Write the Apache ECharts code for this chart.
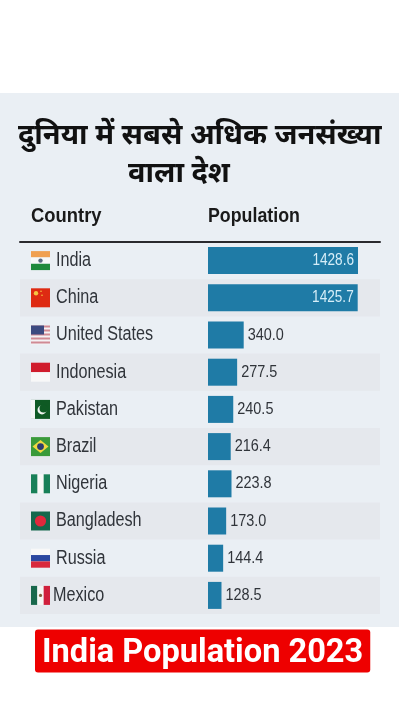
<!DOCTYPE html>
<html>
<head>
<meta charset="utf-8">
<style>
  html, body { margin: 0; padding: 0; background: #fff; }
  #main { width: 405px; height: 720px; }
</style>
<script src="https://cdn.jsdelivr.net/npm/echarts@6/dist/echarts.min.js"></script>
</head>
<body>
<div id="main"></div>
<script>
const countries = ["India", "China", "United States", "Indonesia", "Pakistan", "Brazil", "Nigeria", "Bangladesh", "Russia", "Mexico"];
const population = [1428.6, 1425.7, 340.0, 277.5, 240.5, 216.4, 223.8, 173.0, 144.4, 128.5];
const titleLine1 = "दुनिया में सबसे अधिक जनसंख्या";
const titleLine2 = "वाला देश";
const banner = "India Population 2023";

const sans = '"Liberation Sans", sans-serif';

// small helpers for the flags, x/y are the top left of a 19x19 box
function box(x, y, w, h, fill) {
    return { type: "rect", shape: { x: x, y: y, width: w, height: h }, style: { fill: fill } };
}
function dot(x, y, r, fill) {
    return { type: "circle", shape: { cx: x, cy: y, r: r }, style: { fill: fill } };
}
function flag(name, x, y) {
    const s = 19, t = s / 3, c = s / 2;
    switch (name) {
        case "India":
            return [box(x, y, s, t, "#f0a050"), box(x, y + t, s, t, "#f6f8f8"), box(x, y + 2 * t, s, t, "#1f8a3c"), dot(x + c, y + c, 2.2, "#5a6a80")];
        case "China":
            return [box(x, y, s, s, "#de2a12"), dot(x + 5, y + 5, 2.2, "#f5c542"), dot(x + 10, y + 3, 0.8, "#f5c542"), dot(x + 11, y + 7, 0.8, "#f5c542")];
        case "United States": {
            let parts = [box(x, y, s, s, "#f4f2f4")];
            for (let i = 0; i < 5; i++) parts.push(box(x, y + i * 4, s, 2, "#d08a94"));
            parts.push(box(x, y, 13, 9, "#3c4a80"));
            return parts;
        }
        case "Indonesia":
            return [box(x, y, s, c, "#d01c2c"), box(x, y + c, s, c, "#f8f8f8")];
        case "Pakistan":
            return [box(x, y, s, s, "#0f5a24"), box(x, y, 4, s, "#f4f6f4"), dot(x + 11, y + 10, 4.5, "#f0f4f0"), dot(x + 12.5, y + 8.5, 4, "#0f5a24")];
        case "Brazil":
            return [box(x, y, s, s, "#3a9a3a"), { type: "polygon", shape: { points: [[x + 1.5, y + c], [x + c, y + 3], [x + s - 1.5, y + c], [x + c, y + s - 3]] }, style: { fill: "#f0d840" } }, dot(x + c, y + c, 3.4, "#2c3c70")];
        case "Nigeria":
            return [box(x, y, s, s, "#f6f8f6"), box(x, y, t, s, "#188058"), box(x + 2 * t, y, t, s, "#188058")];
        case "Bangladesh":
            return [box(x, y, s, s, "#14684c"), dot(x + c, y + c, 5.6, "#e0283c")];
        case "Russia":
            return [box(x, y, s, t, "#f8f8f8"), box(x, y + t, s, t, "#2c48a0"), box(x, y + 2 * t, s, t, "#d8283c")];
        case "Mexico":
            return [box(x, y, t, s, "#18684c"), box(x + t, y, t, s, "#f4f6f4"), box(x + 2 * t, y, t, s, "#d0203c"), dot(x + c, y + c, 1.6, "#80603c")];
    }
    return [];
}

// narrow text: no condensed face is installed, so squeeze the normal one
function header(text, x, scale) {
    return {
        type: "text", x: x, y: 216, scaleX: scale,
        style: { text: text, fontFamily: sans, fontWeight: "bold", fontSize: 20, fill: "#1a1a1a", verticalAlign: "middle" }
    };
}

var myChart = echarts.init(document.getElementById("main"));
var option = {
    animation: false,
    backgroundColor: "#ffffff",
    graphic: [
        { type: "rect", z: -10, shape: { x: 0, y: 93, width: 399, height: 534 }, style: { fill: "#eaeff4" } },
        header("Country", 31, 0.92),
        header("Population", 208, 0.89)
    ],
    title: [
        { text: titleLine1, left: 18, top: 121, padding: 0, textStyle: { fontFamily: '"Noto Sans", sans-serif', fontWeight: "bold", fontSize: 29, color: "#111111" } },
        { text: titleLine2, left: 128, top: 159, padding: 0, textStyle: { fontFamily: '"Noto Sans", sans-serif', fontWeight: "bold", fontSize: 29, color: "#111111" } },
        {
            text: banner, left: 35, top: 630, padding: [8, 7, 2, 7],
            backgroundColor: "#ee0000", borderRadius: 3,
            textStyle: { fontFamily: "Roboto, sans-serif", fontWeight: "bold", fontSize: 32.6, lineHeight: 32, color: "#ffffff" }
        }
    ],
    grid: [
        { left: 20, top: 242, width: 360, height: 372 },
        { left: 208, top: 242, width: 157.5, height: 372 }
    ],
    xAxis: [
        {
            gridIndex: 0, type: "value", position: "top", min: 0, max: 1,
            axisLine: { show: true, onZero: false, lineStyle: { color: "#2a2a2e", width: 2 } },
            axisTick: { show: false }, axisLabel: { show: false }, splitLine: { show: false }
        },
        { gridIndex: 1, type: "value", min: 0, max: 1500, show: false, splitLine: { show: false } }
    ],
    yAxis: [
        {
            gridIndex: 0, type: "category", inverse: true, data: countries,
            axisLine: { show: false }, axisTick: { show: false }, axisLabel: { show: false },
            splitArea: { show: true, areaStyle: { color: ["rgba(0,0,0,0)", "#e5e8ed"] } }
        },
        { gridIndex: 1, type: "category", inverse: true, data: countries, show: false }
    ],
    series: [
        {
            // flag and country name of each row
            type: "custom", xAxisIndex: 0, yAxisIndex: 0, silent: true,
            data: countries.map(function (name, i) { return [0, i]; }),
            renderItem: function (params, api) {
                const name = countries[params.dataIndex];
                const p = api.coord([0, api.value(1)]);
                const children = flag(name, p[0] + 11, p[1] - 9.5);
                children.push({
                    type: "text", x: p[0] + (name === "Mexico" ? 33 : 36), y: p[1], scaleX: 0.83,
                    style: { text: name, fontFamily: sans, fontSize: 19.5, fill: "#30343a", verticalAlign: "middle" }
                });
                return { type: "group", children: children };
            }
        },
        {
            name: "Population", type: "bar", xAxisIndex: 1, yAxisIndex: 1, barWidth: 27,
            itemStyle: { color: "#1f7ba6" },
            data: population
        },
        {
            // value labels, inside the bar for the two long ones
            type: "custom", xAxisIndex: 1, yAxisIndex: 1, silent: true, z: 5,
            data: population.map(function (v, i) { return [v, i]; }),
            renderItem: function (params, api) {
                const v = api.value(0);
                const p = api.coord([v, api.value(1)]);
                const big = v > 1000;
                return {
                    type: "text", x: p[0] + (big ? -4 : 4), y: p[1], scaleX: big ? 0.8 : 0.85,
                    style: {
                        text: v.toFixed(1), fontFamily: sans, fontSize: 17,
                        fill: big ? "#d6eef8" : "#30343a",
                        align: big ? "right" : "left", verticalAlign: "middle"
                    }
                };
            }
        }
    ]
};
myChart.setOption(option);
</script>
</body>
</html>
